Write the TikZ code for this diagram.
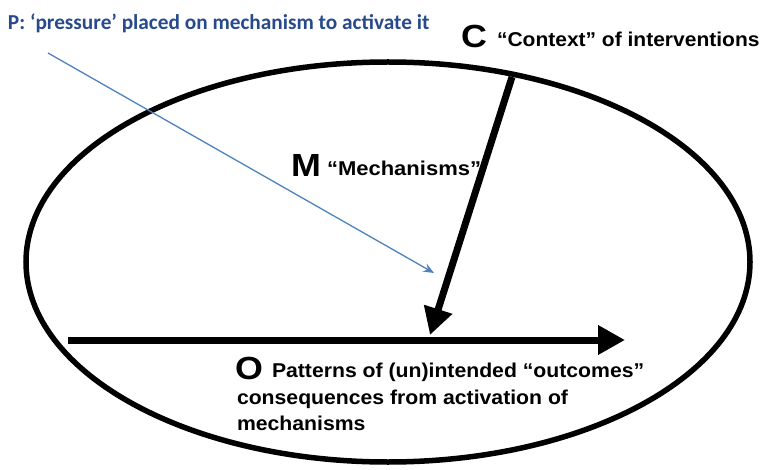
\documentclass[tikz,border=0pt]{standalone}
\usepackage{fontspec}
\setmainfont{Liberation Sans}
\newfontfamily\pfont{Carlito}
\usetikzlibrary{arrows.meta}
\definecolor{pblue}{RGB}{40,74,140}
\definecolor{arrblue}{RGB}{79,129,189}
\newcommand{\wideX}[2][1.12]{\scalebox{#1}[1]{#2}}
\tikzset{
  lbl/.style={anchor=base west, inner sep=0pt, outer sep=0pt},
  bigletter/.style={lbl, font=\bfseries\fontsize{32}{32}\selectfont},
  smalltext/.style={lbl, font=\bfseries\fontsize{20}{20}\selectfont},
  thickarrow/.style={line width=7pt, -{Triangle[length=27pt,width=28pt]}},
  bluearrow/.style={draw=arrblue, line width=1.3pt, -{Stealth[length=11pt,width=9pt,inset=4pt]}}
}
\begin{document}
\begin{tikzpicture}[x=1pt,y=-1pt]
\useasboundingbox (0,0) rectangle (765,470);
% ellipse
\draw[line width=5.5pt] (388,262) ellipse [x radius=362, y radius=200];
% coordinates
\coordinate (hstart) at (68,340);
\coordinate (hend) at (625,340);
\coordinate (cstart) at (512,77);
\coordinate (cend) at (430,335);
\coordinate (pstart) at (48,53);
\coordinate (pend) at (434,273);
% arrows
\draw[thickarrow] (hstart) -- (hend);
\draw[thickarrow] (cstart) -- (cend);
\draw[bluearrow] (pstart) -- (pend);
% texts
\node[lbl, font=\pfont\bfseries\fontsize{21.3}{21.3}\selectfont, text=pblue] (P) at (8,30) {P: ‘pressure’ placed on mechanism to activate it};
\node[bigletter] (C) at (461,48) {\wideX{C}};
\node[smalltext] (Ct) at (497,47) {\wideX[1.05]{“Context” of interventions}};
\node[bigletter] (M) at (291,177) {\wideX{M}};
\node[smalltext] (Mt) at (327,176) {\wideX[1.1]{“Mechanisms”}};
\node[bigletter] (O) at (235,379) {\wideX{O}};
\node[smalltext] (Ot1) at (272,377) {\wideX[1.06]{Patterns of (un)intended “outcomes”}};
\node[smalltext] (Ot2) at (237,404) {\wideX[1.06]{consequences from activation of}};
\node[smalltext] (Ot3) at (237,430) {\wideX[1.06]{mechanisms}};
\end{tikzpicture}
\end{document}
